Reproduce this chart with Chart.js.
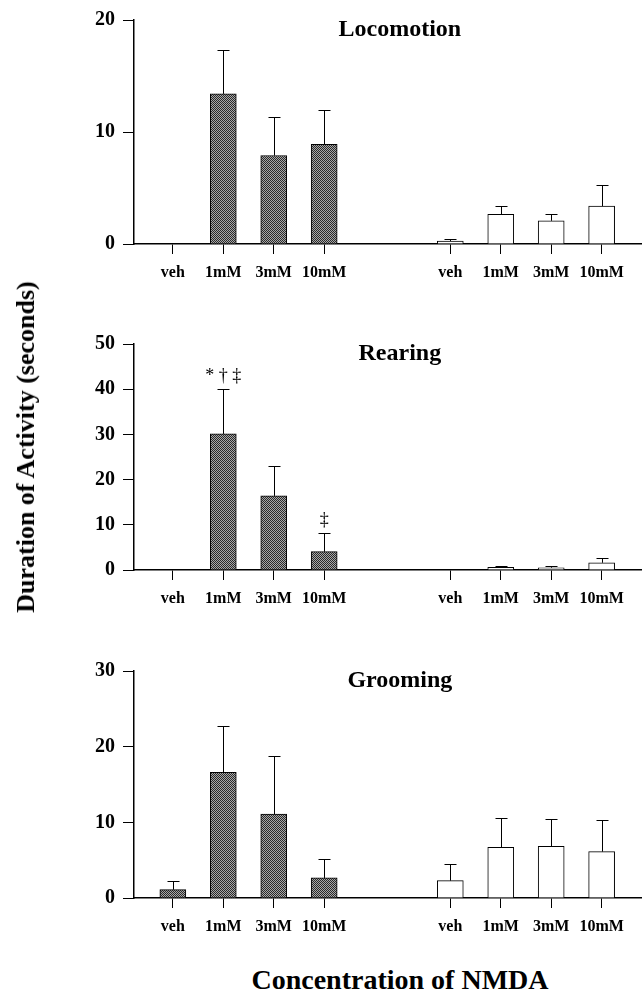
<!DOCTYPE html>
<html>
<head>
<meta charset="utf-8">
<script src="https://cdn.jsdelivr.net/npm/chart.js@4"></script>
<style>
  body { margin: 0; background: #fff; width: 642px; height: 997px; position: relative; overflow: hidden;
         font-family: "Liberation Serif", "Times New Roman", serif; }
  canvas.panel { position: absolute; left: 0; }
  #yTitle { position: absolute; left: 26px; top: 447px; transform: translate(-50%, -50%) rotate(-90deg);
            font-weight: bold; font-size: 26px; line-height: 1; white-space: nowrap; z-index: 2; }
  #xTitle { position: absolute; left: 400px; top: 966px; transform: translateX(-50%);
            font-weight: bold; font-size: 28px; line-height: 1; white-space: nowrap; z-index: 2; }
</style>
</head>
<body>
<canvas id="loco" class="panel" width="642" height="300" style="top:0px"></canvas>
<canvas id="rear" class="panel" width="642" height="310" style="top:300px"></canvas>
<canvas id="groom" class="panel" width="642" height="340" style="top:610px"></canvas>
<div id="yTitle">Duration of Activity (seconds)</div>
<div id="xTitle">Concentration of NMDA</div>

<script>
// dose labels and their positions on the x axis (two groups with a gap)
const doses = ['veh', '1mM', '3mM', '10mM'];
const xPosA = [0, 1, 2, 3];
const xPosB = [5.5, 6.5, 7.5, 8.5];

// Locomotion (mean, SEM)
const locoA = [0, 13.4, 7.9, 8.9];
const locoAErr = [0, 3.9, 3.4, 3.1];
const locoB = [0.27, 2.66, 2.07, 3.38];
const locoBErr = [0.2, 0.77, 0.65, 1.9];

// Rearing
const rearA = [0, 30.1, 16.4, 4.05];
const rearAErr = [0, 9.9, 6.7, 4.2];
const rearB = [0, 0.6, 0.5, 1.6];
const rearBErr = [0, 0.3, 0.4, 1.05];
const rearNotes = [{ x: 1, text: '* † ‡' }, { x: 3, text: '‡' }];

// Grooming
const groomA = [1.1, 16.6, 11.1, 2.65];
const groomAErr = [1.2, 6.1, 7.65, 2.55];
const groomB = [2.29, 6.7, 6.84, 6.13];
const groomBErr = [2.2, 3.9, 3.66, 4.24];

const serif = '"Liberation Serif", "Times New Roman", serif';

// stippled dark fill
function makeStipple() {
    const c = document.createElement('canvas');
    c.width = 2; c.height = 2;
    const g = c.getContext('2d');
    g.fillStyle = '#a8a8a8';
    g.fillRect(0, 0, 2, 2);
    g.fillStyle = '#2a2a2a';
    g.fillRect(0, 0, 1, 1);
    g.fillRect(1, 1, 1, 1);
    return g.createPattern(c, 'repeat');
}
const stipple = makeStipple();

// draw upper error bars from the dataset's err array
const errorBars = {
    id: 'errorBars',
    afterDatasetsDraw(chart) {
        const ctx = chart.ctx;
        const y = chart.scales.y;
        ctx.save();
        ctx.strokeStyle = '#000';
        ctx.lineWidth = 1;
        chart.data.datasets.forEach((ds, di) => {
            const meta = chart.getDatasetMeta(di);
            meta.data.forEach((bar, i) => {
                const e = ds.err[i];
                if (!e) return;
                const top = Math.round(y.getPixelForValue(ds.data[i].y + e)) + 0.5;
                const bx = Math.round(bar.x) + 0.5;
                ctx.beginPath();
                ctx.moveTo(bx, bar.y);
                ctx.lineTo(bx, top);
                ctx.moveTo(bx - 6, top);
                ctx.lineTo(bx + 6, top);
                ctx.stroke();
            });
        });
        ctx.restore();
    }
};

// panel title and significance marks
const panelText = {
    id: 'panelText',
    afterDraw(chart, args, opts) {
        const ctx = chart.ctx;
        const { x, y } = chart.scales;
        ctx.save();
        ctx.fillStyle = '#000';
        ctx.textAlign = 'center';
        ctx.textBaseline = 'alphabetic';
        ctx.font = 'bold 24px ' + serif;
        ctx.fillText(opts.title, x.getPixelForValue(4.5), chart.chartArea.top + 16);
        ctx.font = '18px ' + serif;
        (opts.notes || []).forEach(n => {
            const ds = chart.data.datasets[0];
            const i = xPosA.indexOf(n.x);
            const top = y.getPixelForValue(ds.data[i].y + ds.err[i]);
            ctx.fillText(n.text, x.getPixelForValue(n.x), top - 8);
        });
        ctx.restore();
    }
};

const tickLabels = doses.concat(doses);

function makePanel(id, title, valsA, errA, valsB, errB, yMax, padTop, xHeight, notes) {
    const ctx = document.getElementById(id).getContext('2d');
    return new Chart(ctx, {
        type: 'bar',
        data: {
            datasets: [
                {
                    data: xPosA.map((x, i) => ({ x: x, y: valsA[i] })),
                    err: errA,
                    backgroundColor: stipple,
                    borderColor: '#000',
                    borderWidth: 1,
                    borderSkipped: 'bottom',
                    barThickness: 26,
                    grouped: false
                },
                {
                    data: xPosB.map((x, i) => ({ x: x, y: valsB[i] })),
                    err: errB,
                    backgroundColor: '#fff',
                    borderColor: '#000',
                    borderWidth: 1,
                    borderSkipped: 'bottom',
                    barThickness: 26,
                    grouped: false
                }
            ]
        },
        options: {
            responsive: false,
            animation: false,
            layout: { padding: { top: padTop, left: 0, right: 0, bottom: 0 } },
            plugins: {
                legend: { display: false },
                tooltip: { enabled: false },
                panelText: { title: title, notes: notes }
            },
            scales: {
                x: {
                    type: 'linear',
                    min: -0.77,
                    max: 9.3,
                    offset: false,
                    afterBuildTicks: s => { s.ticks = xPosA.concat(xPosB).map(v => ({ value: v })); },
                    afterFit: s => { s.height = xHeight; },
                    grid: { display: true, offset: false, drawOnChartArea: false, drawTicks: true, tickLength: 10, color: '#000', lineWidth: 1 },
                    border: { display: true, color: '#000', width: 1.5 },
                    ticks: {
                        autoSkip: false,
                        maxRotation: 0,
                        padding: 9,
                        color: '#000',
                        font: { family: serif, size: 16, weight: 'bold' },
                        callback: (v, i) => tickLabels[i]
                    }
                },
                y: {
                    min: 0,
                    max: yMax,
                    afterFit: s => { s.width = 134; },
                    grid: { display: true, drawOnChartArea: false, drawTicks: true, tickLength: 11, color: '#000', lineWidth: 1 },
                    border: { display: true, color: '#000', width: 1.5 },
                    ticks: {
                        stepSize: 10,
                        padding: 8,
                        color: '#000',
                        font: { family: serif, size: 20, weight: 'bold' }
                    }
                }
            }
        },
        plugins: [errorBars, panelText]
    });
}

makePanel('loco', 'Locomotion', locoA, locoAErr, locoB, locoBErr, 20, 19, 56, []);
makePanel('rear', 'Rearing', rearA, rearAErr, rearB, rearBErr, 50, 44, 40, rearNotes);
makePanel('groom', 'Grooming', groomA, groomAErr, groomB, groomBErr, 30, 61, 52, []);
</script>
</body>
</html>
